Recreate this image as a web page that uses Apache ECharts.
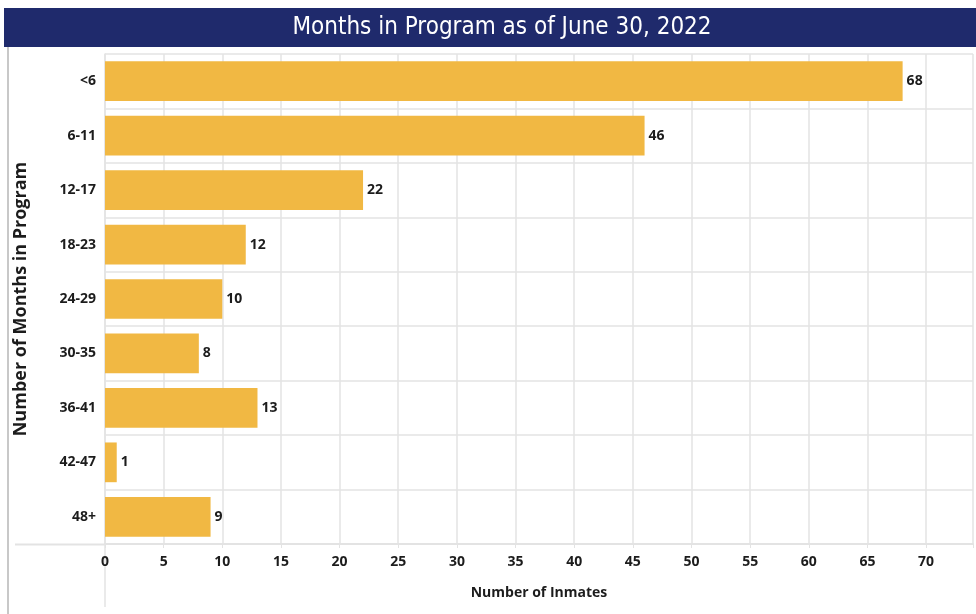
<!DOCTYPE html>
<html>
<head>
<meta charset="utf-8">
<script src="https://cdn.jsdelivr.net/npm/echarts@6/dist/echarts.min.js"></script>
<style>
  html, body { margin: 0; padding: 0; background: #fff; }
  #chart { width: 976px; height: 614px; }
</style>
</head>
<body>
<div id="chart"></div>
<script>
const categories = ['<6', '6-11', '12-17', '18-23', '24-29', '30-35', '36-41', '42-47', '48+'];
const inmates = [68, 46, 22, 12, 10, 8, 13, 1, 9];
const xTicks = [0, 5, 10, 15, 20, 25, 30, 35, 40, 45, 50, 55, 60, 65, 70];

const gridColor = '#e3e3e3';
const textColor = '#1c1c1c';
const labelFont = '"Open Sans", Lato, sans-serif';

const chart = echarts.init(document.getElementById('chart'));

chart.setOption({
    backgroundColor: '#fff',
    animation: false,
    title: {
        text: 'Months in Program as of June 30, 2022',
        left: 497,
        textAlign: 'center',
        top: 11,
        textStyle: {
            color: '#ffffff',
            fontSize: 24,
            fontWeight: 'normal',
            fontFamily: '"Liberation Sans Narrow", "DejaVu Sans Condensed", sans-serif'
        }
    },
    graphic: [
        { type: 'rect', z: -1, shape: { x: 4, y: 8, width: 972, height: 39 }, style: { fill: '#1f2a6c' } },
        { type: 'line', shape: { x1: 8, y1: 47, x2: 8, y2: 614 }, style: { stroke: '#c8c8c8', lineWidth: 2 } },
        { type: 'line', shape: { x1: 15, y1: 544.5, x2: 105, y2: 544.5 }, style: { stroke: gridColor, lineWidth: 2 } },
        { type: 'line', shape: { x1: 105, y1: 545, x2: 105, y2: 607 }, style: { stroke: gridColor, lineWidth: 1.5 } }
    ],
    grid: { left: 105, right: 0, top: 54, bottom: 70 },
    xAxis: {
        type: 'value',
        min: 0,
        max: 74,
        interval: 5,
        name: 'Number of Inmates',
        nameLocation: 'middle',
        nameGap: 42,
        nameTextStyle: { color: textColor, fontSize: 14, fontWeight: 'bold', fontFamily: labelFont },
        axisLine: { show: true, lineStyle: { color: gridColor, width: 2 } },
        axisTick: { show: true, length: 4, lineStyle: { color: gridColor } },
        splitLine: { show: true, lineStyle: { color: gridColor, width: 1.5 } },
        axisLabel: {
            color: textColor,
            fontSize: 14,
            fontWeight: 'bold',
            fontFamily: labelFont,
            margin: 11,
            formatter: v => (xTicks.includes(v) ? String(v) : '')
        }
    },
    yAxis: {
        type: 'category',
        data: categories,
        inverse: true,
        name: 'Number of Months in Program',
        nameLocation: 'middle',
        nameGap: 75,
        nameTextStyle: { color: textColor, fontSize: 18, fontWeight: 'bold', fontFamily: labelFont },
        axisLine: { show: true, lineStyle: { color: gridColor, width: 1.5 } },
        axisTick: { show: false },
        splitLine: { show: true, lineStyle: { color: gridColor, width: 1.5 } },
        axisLabel: {
            color: textColor,
            fontSize: 14,
            fontWeight: 'bold',
            fontFamily: labelFont,
            margin: 9
        }
    },
    series: [
        {
            type: 'bar',
            data: inmates,
            barCategoryGap: '27%',
            itemStyle: { color: '#f1b843' },
            label: {
                show: true,
                position: 'right',
                distance: 4,
                color: textColor,
                fontSize: 14,
                fontWeight: 'bold',
                fontFamily: labelFont
            }
        }
    ]
});
</script>
</body>
</html>
